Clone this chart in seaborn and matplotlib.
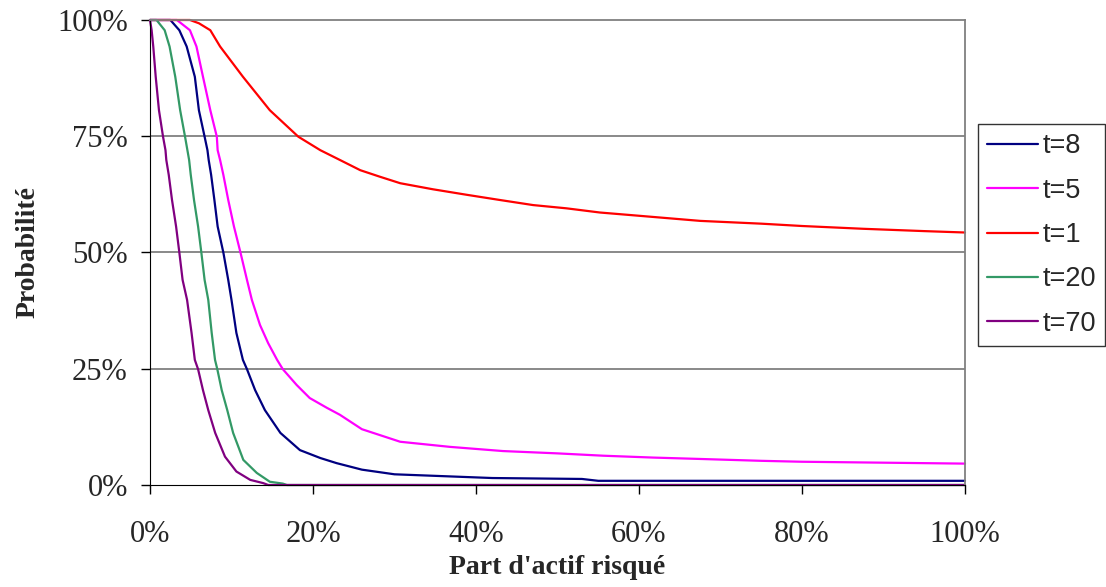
import numpy as np
import pandas as pd

import matplotlib
matplotlib.use('Agg')

from matplotlib import pyplot as plt
import seaborn as sns

#==============================================================================
# values (x: part d'actif risqué in %, y: probabilité in %)

t8_x = [0, 2.5, 3.6, 4.5, 5.5, 6.0, 6.7, 7.05, 7.2, 7.5, 7.9, 8.3, 9.0, 9.6, 10.0,
        10.6, 11.4, 11.9, 12.9, 14.1, 16.0, 18.4, 20.9, 22.9, 26, 30, 36, 42, 53, 55, 100]
t8_y = [100, 100, 97.8, 94.3, 87.8, 80.6, 74.9, 72, 69.9, 66.7, 61.3, 55.6, 50, 44.1, 39.8,
        32.7, 26.9, 24.9, 20.4, 16.1, 11.2, 7.5, 5.8, 4.7, 3.3, 2.3, 1.9, 1.5, 1.3, 0.9, 0.9]

t5_x = [0, 3.3, 4.9, 5.7, 6.5, 7.4, 8.2, 8.3, 8.6, 9.0, 9.6, 10.3, 11.1, 11.9, 12.5,
        13.5, 14.5, 15.6, 16.3, 18.0, 19.6, 21.7, 23.3, 26, 30.7, 36.8, 43.3, 50, 55.6,
        61.7, 67.5, 75, 80, 90, 100]
t5_y = [100, 100, 97.8, 94.3, 87.8, 80.6, 74.9, 72, 69.9, 66.7, 61.3, 55.6, 50, 44.1, 39.8,
        34.4, 30.5, 26.9, 24.9, 21.5, 18.7, 16.6, 15.1, 12, 9.3, 8.2, 7.3, 6.8, 6.3,
        5.9, 5.6, 5.2, 5.0, 4.8, 4.6]

t1_x = [0, 4.9, 6, 7.4, 8.6, 11.4, 14.7, 18.2, 20.9, 23.3, 25.8, 28.2, 30.7, 34.7,
        38.9, 42.9, 47, 51.1, 55.2, 60, 67.5, 75, 80, 87.5, 95, 100]
t1_y = [100, 100, 99.3, 97.8, 94.3, 87.8, 80.6, 74.9, 72, 69.9, 67.7, 66.3, 64.9, 63.6,
        62.4, 61.3, 60.2, 59.5, 58.6, 57.9, 56.8, 56.2, 55.7, 55.1, 54.6, 54.3]

t20_x = [0, 0.8, 1.8, 2.4, 3.1, 3.7, 4.3, 4.8, 5.0, 5.4, 5.9, 6.3, 6.7, 7.15, 7.57,
         7.98, 8.26, 8.8, 9.48, 10.2, 11.45, 13.1, 14.7, 16.3, 16.8, 100]
t20_y = [100, 100, 97.8, 94.3, 87.8, 80.6, 74.9, 69.9, 66.7, 61.3, 55.6, 50, 44.1, 39.8, 32.7,
         26.9, 24.9, 20.4, 16.1, 11.2, 5.4, 2.6, 0.7, 0.3, 0, 0]

t70_x = [0, 0.2, 0.4, 0.7, 1.1, 1.6, 1.9, 2.0, 2.3, 2.7, 3.2, 3.6, 4.0, 4.55, 5.1,
         5.5, 5.9, 6.5, 7.15, 8.0, 9.2, 10.6, 12.3, 13.9, 14.5, 100]
t70_y = [100, 97.8, 94.3, 87.8, 80.6, 74.9, 72, 69.9, 66.7, 61.3, 55.6, 50, 44.1, 39.8, 32.7,
         26.9, 24.9, 20.4, 16.1, 11.2, 6.1, 2.9, 1.1, 0.4, 0, 0]

series = {'t=8': (t8_x, t8_y), 't=5': (t5_x, t5_y), 't=1': (t1_x, t1_y),
          't=20': (t20_x, t20_y), 't=70': (t70_x, t70_y)}
colors = {'t=8': '#000080', 't=5': '#FF00FF', 't=1': '#FF0000',
          't=20': '#339966', 't=70': '#800080'}

x_ticks = [0, 20, 40, 60, 80, 100]
y_ticks = [0, 25, 50, 75, 100]

#==============================================================================

frames = []
for name, (xs, ys) in series.items():
    frames.append(pd.DataFrame({'part': xs, 'proba': ys, 't': name}))
df = pd.concat(frames, ignore_index=True)

sns.set_style('white')
plt.rcParams['font.family'] = ['Liberation Serif', 'DejaVu Serif']

fig = plt.figure(figsize=(11.06, 5.87), dpi=100)
ax = fig.add_axes([150 / 1106, 1 - 485 / 587, 815 / 1106, 465 / 587])

sns.lineplot(data=df, x='part', y='proba', hue='t', hue_order=list(series.keys()),
             palette=colors, estimator=None, sort=False, linewidth=1.6, ax=ax)
for line in ax.lines:
    line.set_clip_on(False)

ax.set_xlim(0, 100)
ax.set_ylim(0, 100)
ax.set_xticks(x_ticks)
ax.set_xticklabels([f'{v}%' for v in x_ticks], fontsize=22)
ax.set_yticks(y_ticks)
ax.set_yticklabels([f'{v}%' for v in y_ticks], fontsize=22)
ax.tick_params(direction='out', length=6.5, width=1, color='black',
               bottom=True, left=True)
ax.tick_params(axis='x', pad=19)
ax.tick_params(axis='y', pad=9.5)

for v in y_ticks[1:-1]:
    ax.axhline(v, color='#808080', linewidth=1.3, zorder=0)
ax.spines['top'].set_color('#808080')
ax.spines['right'].set_color('#808080')
ax.spines['top'].set_linewidth(1.3)
ax.spines['right'].set_linewidth(1.3)
ax.spines['left'].set_color('black')
ax.spines['bottom'].set_color('black')

ax.set_xlabel("Part d'actif risqué", fontsize=20, fontweight='bold', labelpad=4)
ax.set_ylabel('Probabilité', fontsize=20, fontweight='bold', labelpad=12)

handles, labels = ax.get_legend_handles_labels()
leg = ax.legend(handles, labels, loc='center left',
                bbox_to_anchor=(978 / 1106, 1 - 235 / 587), bbox_transform=fig.transFigure,
                prop={'family': 'Liberation Sans', 'size': 19.5}, frameon=True, fancybox=False,
                edgecolor='black', handlelength=1.85, handletextpad=0.18,
                labelspacing=0.68, borderpad=0.35, borderaxespad=0)
leg.get_frame().set_linewidth(1.0)

plt.savefig('out.png', dpi=100)
